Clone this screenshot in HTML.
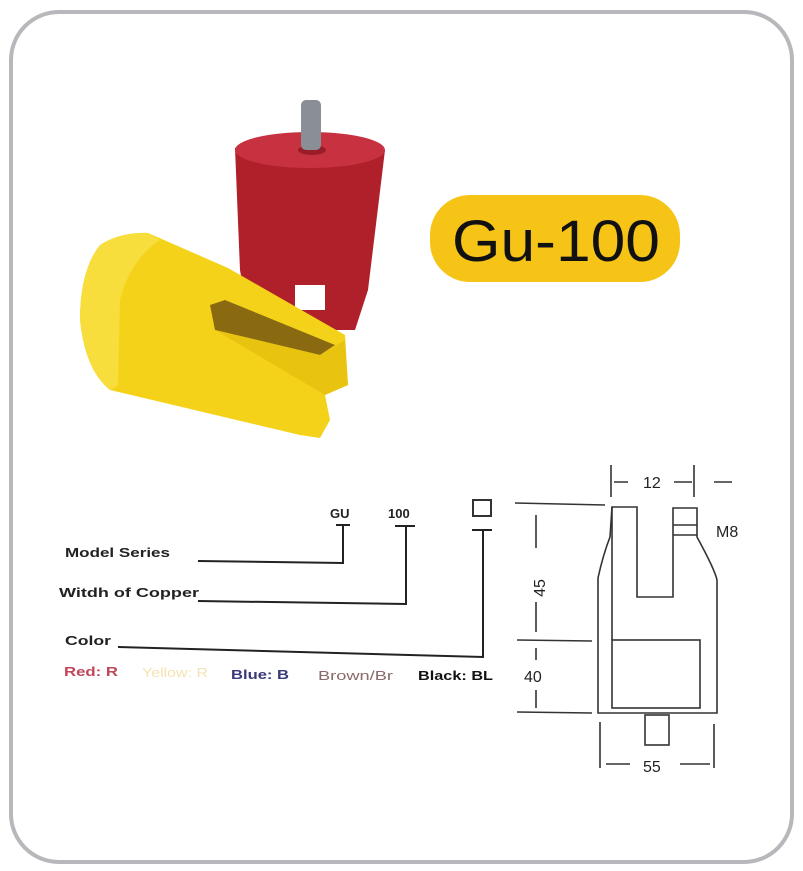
<!DOCTYPE html>
<html><head><style>
html,body{margin:0;padding:0;background:#fff;}
body{width:803px;height:871px;position:relative;overflow:hidden;font-family:"Liberation Sans",sans-serif;}
</style></head><body>
<svg width="803" height="871" viewBox="0 0 803 871" xmlns="http://www.w3.org/2000/svg" style="position:absolute;left:0;top:0">
<rect x="11" y="12" width="781" height="850" rx="48" fill="#fff" stroke="#b8b8bc" stroke-width="4"/>
<path d="M235,148 Q310,122 385,150 L368,290 L355,330 L250,330 L240,270 Z" fill="#b0202a"/>
<ellipse cx="310" cy="150" rx="75" ry="18" fill="#c83240"/>
<ellipse cx="312" cy="150" rx="14" ry="5" fill="#9a1c26"/>
<rect x="301" y="100" width="20" height="50" rx="5" fill="#8a8f96"/>
<rect x="295" y="285" width="30" height="25" fill="#fff"/>
<path d="M100,245 Q120,232 148,233 L228,268 L345,335 L348,385 L325,395 L330,420 L320,438 L300,435 L110,390 Q85,370 80,320 Q80,270 100,245 Z" fill="#f4d21a"/>
<path d="M100,245 Q120,232 148,233 L160,240 Q130,260 120,300 L118,385 L110,390 Q85,370 80,320 Q80,270 100,245 Z" fill="#f7de3c"/>
<path d="M210,305 L225,300 L335,345 L320,355 L215,330 Z" fill="#8a6a10"/>
<path d="M215,330 L320,355 L345,340 L348,385 L325,395 Z" fill="#e8c410"/>
<rect x="430" y="195" width="250" height="87" rx="40" fill="#f6c416"/>
<text x="556" y="261" text-anchor="middle" font-size="58" fill="#111" textLength="208" lengthAdjust="spacingAndGlyphs">Gu-100</text>
<g font-weight="bold" font-size="13" fill="#222">
<text x="330" y="518">GU</text>
<text x="388" y="518">100</text>
<text x="65" y="557" textLength="105" lengthAdjust="spacingAndGlyphs">Model Series</text>
<text x="59" y="597" textLength="140" lengthAdjust="spacingAndGlyphs">Witdh of Copper</text>
<text x="65" y="645" textLength="46" lengthAdjust="spacingAndGlyphs">Color</text>
<text x="418" y="680" fill="#111" textLength="75" lengthAdjust="spacingAndGlyphs">Black: BL</text>
</g>
<rect x="473" y="500" width="18" height="16" fill="none" stroke="#333" stroke-width="2"/>
<g font-size="13" font-weight="bold">
<text x="64" y="676" fill="#c0475a" textLength="54" lengthAdjust="spacingAndGlyphs">Red: R</text>
<text x="142" y="677" fill="#f3e3b0" font-weight="normal" textLength="66" lengthAdjust="spacingAndGlyphs">Yellow: R</text>
<text x="231" y="679" fill="#3a3a78" textLength="58" lengthAdjust="spacingAndGlyphs">Blue: B</text>
<text x="318" y="680" fill="#8a6a6a" font-weight="normal" textLength="75" lengthAdjust="spacingAndGlyphs">Brown/Br</text>
</g>
<g stroke="#222" stroke-width="2" fill="none">
<path d="M336,525 L350,525 M343,525 L343,563 L198,561"/>
<path d="M395,526 L415,526 M406,526 L406,604 L198,601"/>
<path d="M472,530 L492,530 M483,530 L483,657 L118,647"/>
</g>
<g stroke="#333" stroke-width="1.6" fill="none">
<path d="M612,507 L637,507 L637,597 L673,597 L673,508 L697,508 L697,537 Q715,570 717,580 L717,713 L598,713 L598,578 Q603,555 610,537 Z"/>
<line x1="612" y1="507" x2="612" y2="640"/>
<line x1="673" y1="525" x2="697" y2="525"/>
<line x1="673" y1="535" x2="697" y2="535"/>
<rect x="612" y="640" width="88" height="68"/>
<rect x="645" y="715" width="24" height="30"/>
<path d="M611,465 L611,497 M694,465 L694,497 M614,482 L628,482 M674,482 L692,482 M714,482 L732,482"/>
<path d="M515,503 L605,505 M517,640 L592,641 M517,712 L592,713"/>
<path d="M536,515 L536,548 M536,602 L536,632 M536,648 L536,660 M536,690 L536,708"/>
<path d="M600,722 L600,768 M714,724 L714,768 M606,764 L630,764 M680,764 L710,764"/>
</g>
<g font-size="16" fill="#222">
<text x="643" y="488">12</text>
<text x="716" y="537">M8</text>
<text x="545" y="588" transform="rotate(-90 545 588)" text-anchor="middle">45</text>
<text x="524" y="682">40</text>
<text x="643" y="772">55</text>
</g>
</svg>
</body></html>
